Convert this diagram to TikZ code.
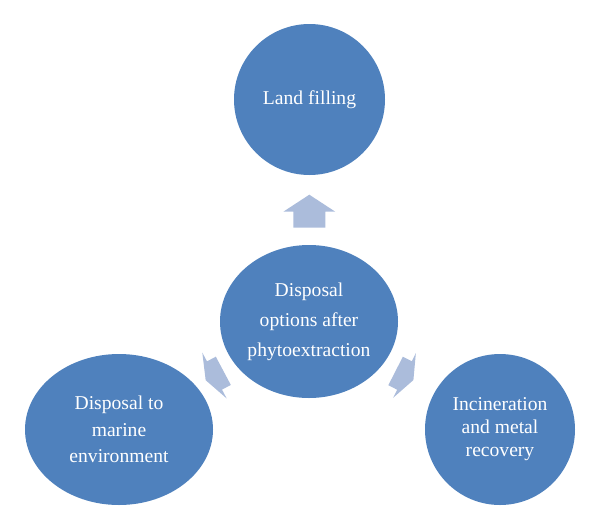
\documentclass[tikz,border=0pt]{standalone}
\usepackage{fontspec}
\setmainfont{Liberation Serif}
\usetikzlibrary{shapes.geometric}
\definecolor{circblue}{HTML}{4F81BD}
\definecolor{arrowblue}{HTML}{ABBCDB}
\begin{document}
\begin{tikzpicture}[x=1pt,y=-1pt,
  bubble/.style={ellipse, fill=circblue, draw=none, inner sep=0pt, text=white, align=center},
  barrow/.style={fill=arrowblue, draw=none}]
\useasboundingbox (0,0) rectangle (600,531);
% circles
\node[bubble, minimum width=151pt, minimum height=151pt, font=\fontsize{19.6}{26}\selectfont] (land) at (309.5,99.5) {Land filling};
\node[bubble, minimum width=178pt, minimum height=153pt, font=\fontsize{19.6}{30}\selectfont] (hub) at (309,321.5) {Disposal\\options after\\phytoextraction};
\node[bubble, minimum width=188pt, minimum height=151pt, font=\fontsize{19.6}{26.5}\selectfont] (marine) at (119,429.5) {Disposal to\\marine\\environment};
\node[bubble, minimum width=150pt, minimum height=151pt, font=\fontsize{19.6}{23}\selectfont] (incin) at (500,429.5) {Incineration\\and metal\\recovery};
% block arrows
\coordinate (aup) at (309.3,211.7);
\coordinate (aleft) at (214.5,375.5);
\coordinate (aright) at (404.5,375.5);
\begin{scope}[shift={(aup)}, rotate=90]
  \fill[barrow] (17,0) -- (0,26) -- (0,16) -- (-16,16) -- (-16,-16) -- (0,-16) -- (0,-26) -- cycle;
\end{scope}
\begin{scope}[shift={(aleft)}, rotate=208]
  \fill[barrow] (10,0) -- (0,26) -- (0,16) -- (-10,16) -- (-10,-16) -- (0,-16) -- (0,-26) -- cycle;
\end{scope}
\begin{scope}[shift={(aright)}, rotate=-27]
  \fill[barrow] (10,0) -- (0,25) -- (0,16) -- (-10,16) -- (-10,-16) -- (0,-16) -- (0,-25) -- cycle;
\end{scope}
\end{tikzpicture}
\end{document}
